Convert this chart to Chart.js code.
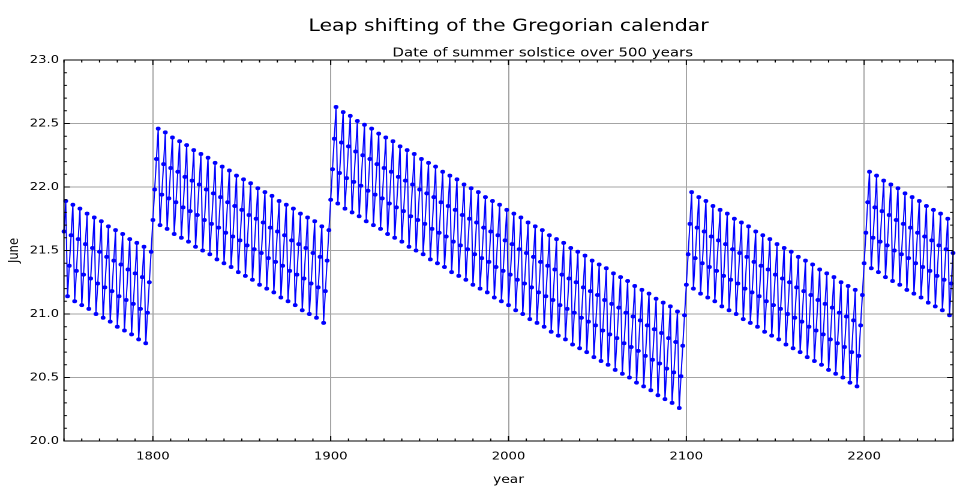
<!DOCTYPE html>
<html>
<head>
<meta charset="utf-8">
<script src="https://cdn.jsdelivr.net/npm/chart.js@4.4.1/dist/chart.umd.min.js"></script>
<style>
  html, body { margin: 0; padding: 0; background: #fff; overflow: hidden; }
  /* the reference is drawn slightly wide, so the chart is laid out at 800px and stretched */
  #wrap { width: 800px; height: 504px; transform: scale(1.2, 1); transform-origin: 0 0; }
</style>
</head>
<body>
<div id="wrap"><canvas id="chart"></canvas></div>
<script>
const TITLE = 'Leap shifting of the Gregorian calendar';
const SUBTITLE = 'Date of summer solstice over 500 years';

const FIRST_YEAR = 1750;
const xTicks = [1800, 1900, 2000, 2100, 2200];
const yTicks = [20.0, 20.5, 21.0, 21.5, 22.0, 22.5, 23.0];

// day of June of the solstice, one value per year from 1750 to 2250
const solsticeDay = [
  21.65, 21.89,
  21.14, 21.38, 21.62, 21.86,  21.10, 21.34, 21.59, 21.83,  21.07, 21.31, 21.55, 21.79,
  21.04, 21.28, 21.52, 21.76,  21.00, 21.24, 21.49, 21.73,  20.97, 21.21, 21.45, 21.69,
  20.94, 21.18, 21.42, 21.66,  20.90, 21.14, 21.39, 21.63,  20.87, 21.11, 21.35, 21.59,
  20.84, 21.08, 21.32, 21.56,  20.80, 21.04, 21.29, 21.53,  20.77, 21.01, 21.25, 21.49,
  // 1800
  21.74, 21.98, 22.22, 22.46,  21.70, 21.94, 22.18, 22.43,  21.67, 21.91, 22.15, 22.39,
  21.63, 21.88, 22.12, 22.36,  21.60, 21.84, 22.08, 22.33,  21.57, 21.81, 22.05, 22.29,
  21.53, 21.78, 22.02, 22.26,  21.50, 21.74, 21.98, 22.23,  21.47, 21.71, 21.95, 22.19,
  21.43, 21.68, 21.92, 22.16,  21.40, 21.64, 21.88, 22.13,  21.37, 21.61, 21.85, 22.09,
  21.33, 21.58, 21.82, 22.06,  21.30, 21.54, 21.78, 22.03,  21.27, 21.51, 21.75, 21.99,
  21.23, 21.48, 21.72, 21.96,  21.20, 21.44, 21.68, 21.93,  21.17, 21.41, 21.65, 21.89,
  21.13, 21.38, 21.62, 21.86,  21.10, 21.34, 21.58, 21.83,  21.07, 21.31, 21.55, 21.79,
  21.03, 21.28, 21.52, 21.76,  21.00, 21.24, 21.48, 21.73,  20.97, 21.21, 21.45, 21.69,
  20.93, 21.18, 21.42, 21.66,
  // 1900
  21.90, 22.14, 22.38, 22.63,  21.87, 22.11, 22.35, 22.59,  21.83, 22.07, 22.32, 22.56,
  21.80, 22.04, 22.28, 22.52,  21.77, 22.01, 22.25, 22.49,  21.73, 21.97, 22.22, 22.46,
  21.70, 21.94, 22.18, 22.42,  21.67, 21.91, 22.15, 22.39,  21.63, 21.87, 22.12, 22.36,
  21.60, 21.84, 22.08, 22.32,  21.57, 21.81, 22.05, 22.29,  21.53, 21.77, 22.02, 22.26,
  21.50, 21.74, 21.98, 22.22,  21.47, 21.71, 21.95, 22.19,  21.43, 21.67, 21.92, 22.16,
  21.40, 21.64, 21.88, 22.12,  21.37, 21.61, 21.85, 22.09,  21.33, 21.57, 21.82, 22.06,
  21.30, 21.54, 21.78, 22.02,  21.27, 21.51, 21.75, 21.99,  21.23, 21.47, 21.72, 21.96,
  21.20, 21.44, 21.68, 21.92,  21.17, 21.41, 21.65, 21.89,  21.13, 21.37, 21.62, 21.86,
  21.10, 21.34, 21.58, 21.82,
  // 2000
  21.07, 21.31, 21.55, 21.79,  21.03, 21.27, 21.51, 21.76,  21.00, 21.24, 21.48, 21.72,
  20.96, 21.21, 21.45, 21.69,  20.93, 21.17, 21.41, 21.66,  20.90, 21.14, 21.38, 21.62,
  20.86, 21.11, 21.35, 21.59,  20.83, 21.07, 21.31, 21.56,  20.80, 21.04, 21.28, 21.52,
  20.76, 21.01, 21.25, 21.49,  20.73, 20.97, 21.21, 21.46,  20.70, 20.94, 21.18, 21.42,
  20.66, 20.91, 21.15, 21.39,  20.63, 20.87, 21.11, 21.36,  20.60, 20.84, 21.08, 21.32,
  20.56, 20.81, 21.05, 21.29,  20.53, 20.77, 21.01, 21.26,  20.50, 20.74, 20.98, 21.22,
  20.46, 20.71, 20.95, 21.19,  20.43, 20.67, 20.91, 21.16,  20.40, 20.64, 20.88, 21.12,
  20.36, 20.61, 20.85, 21.09,  20.33, 20.57, 20.81, 21.06,  20.30, 20.54, 20.78, 21.02,
  20.26, 20.51, 20.75, 20.99,
  // 2100
  21.23, 21.47, 21.71, 21.96,  21.20, 21.44, 21.68, 21.92,  21.16, 21.40, 21.65, 21.89,
  21.13, 21.37, 21.61, 21.85,  21.10, 21.34, 21.58, 21.82,  21.06, 21.30, 21.55, 21.79,
  21.03, 21.27, 21.51, 21.75,  21.00, 21.24, 21.48, 21.72,  20.96, 21.20, 21.45, 21.69,
  20.93, 21.17, 21.41, 21.65,  20.90, 21.14, 21.38, 21.62,  20.86, 21.10, 21.35, 21.59,
  20.83, 21.07, 21.31, 21.55,  20.80, 21.04, 21.28, 21.52,  20.76, 21.00, 21.25, 21.49,
  20.73, 20.97, 21.21, 21.45,  20.70, 20.94, 21.18, 21.42,  20.66, 20.90, 21.15, 21.39,
  20.63, 20.87, 21.11, 21.35,  20.60, 20.84, 21.08, 21.32,  20.56, 20.80, 21.05, 21.29,
  20.53, 20.77, 21.01, 21.25,  20.50, 20.74, 20.98, 21.22,  20.46, 20.70, 20.95, 21.19,
  20.43, 20.67, 20.91, 21.15,
  // 2200
  21.40, 21.64, 21.88, 22.12,  21.36, 21.60, 21.84, 22.09,  21.33, 21.57, 21.81, 22.05,
  21.29, 21.54, 21.78, 22.02,  21.26, 21.50, 21.74, 21.99,  21.23, 21.47, 21.71, 21.95,
  21.19, 21.44, 21.68, 21.92,  21.16, 21.40, 21.64, 21.89,  21.13, 21.37, 21.61, 21.85,
  21.09, 21.34, 21.58, 21.82,  21.06, 21.30, 21.54, 21.79,  21.03, 21.27, 21.51, 21.75,
  20.99, 21.24, 21.48
];

const years = solsticeDay.map((_, i) => FIRST_YEAR + i);
const X_MIN = 1750, X_MAX = 2250;
const FONT = '"DejaVu Sans", sans-serif';

// box, inward ticks on all four sides, title and subtitle
const frameAndTicks = {
  id: 'frameAndTicks',
  afterDatasetsDraw(chart) {
    const { ctx, chartArea: a, scales: { x, y } } = chart;
    ctx.save();
    ctx.strokeStyle = '#000';
    ctx.lineWidth = 1;
    ctx.beginPath();
    for (let yr = X_MIN; yr <= X_MAX; yr += 10) {
      const px = x.getPixelForValue(yr);
      const len = yr % 100 === 0 ? 5 : 2.5;
      ctx.moveTo(px, a.bottom); ctx.lineTo(px, a.bottom - len);
      ctx.moveTo(px, a.top); ctx.lineTo(px, a.top + len);
    }
    for (let k = 200; k <= 230; k++) {
      const py = y.getPixelForValue(k / 10);
      const len = k % 5 === 0 ? 5 : 2.5;
      ctx.moveTo(a.left, py); ctx.lineTo(a.left + len, py);
      ctx.moveTo(a.right, py); ctx.lineTo(a.right - len, py);
    }
    ctx.stroke();
    ctx.strokeRect(a.left, a.top, a.right - a.left, a.bottom - a.top);
    ctx.restore();
  },
  afterDraw(chart) {
    const { ctx, chartArea: a } = chart;
    const cx = (a.left + a.right) / 2;
    ctx.save();
    ctx.fillStyle = '#000';
    ctx.textAlign = 'center';
    ctx.textBaseline = 'alphabetic';
    ctx.font = '17px ' + FONT;
    ctx.fillText(TITLE, cx, 31);
    ctx.font = '12.5px ' + FONT;
    ctx.fillText(SUBTITLE, cx + 28.5, 56.5);
    ctx.restore();
  }
};

new Chart(document.getElementById('chart'), {
  type: 'line',
  data: {
    labels: years,
    datasets: [{
      data: solsticeDay,
      borderColor: '#0000ff',
      backgroundColor: '#0000ff',
      borderWidth: 1,
      pointRadius: 2,
      pointBorderWidth: 0,
      pointHoverRadius: 2,
      tension: 0,
      clip: 4
    }]
  },
  options: {
    responsive: true,
    maintainAspectRatio: false,
    animation: false,
    devicePixelRatio: 2,
    events: [],
    layout: { padding: { top: 60, right: 5.8, left: 0, bottom: 0 } },
    plugins: { legend: { display: false }, tooltip: { enabled: false } },
    scales: {
      x: {
        type: 'linear',
        min: X_MIN,
        max: X_MAX,
        afterBuildTicks: s => { s.ticks = xTicks.map(v => ({ value: v })); },
        afterFit: s => { s.height = 63; },
        grid: { color: '#a4a4a4', lineWidth: 1, drawTicks: false },
        border: { display: false },
        ticks: { padding: 9, color: '#000', maxRotation: 0, font: { family: FONT, size: 11 }, callback: v => String(v) },
        title: { display: true, text: 'year', color: '#000', font: { family: FONT, size: 11.5 }, padding: { top: 0, bottom: 17 } }
      },
      y: {
        min: 20,
        max: 23,
        afterBuildTicks: s => { s.ticks = yTicks.map(v => ({ value: v })); },
        afterFit: s => { s.width = 53.3; },
        grid: { color: '#a4a4a4', lineWidth: 1, drawTicks: false },
        border: { display: false },
        ticks: { padding: 4, color: '#000', font: { family: FONT, size: 11 }, callback: v => v.toFixed(1) },
        title: { display: true, text: 'June', color: '#000', font: { family: FONT, size: 11.5 }, padding: { top: 5, bottom: 0 } }
      }
    }
  },
  plugins: [frameAndTicks]
});
</script>
</body>
</html>
